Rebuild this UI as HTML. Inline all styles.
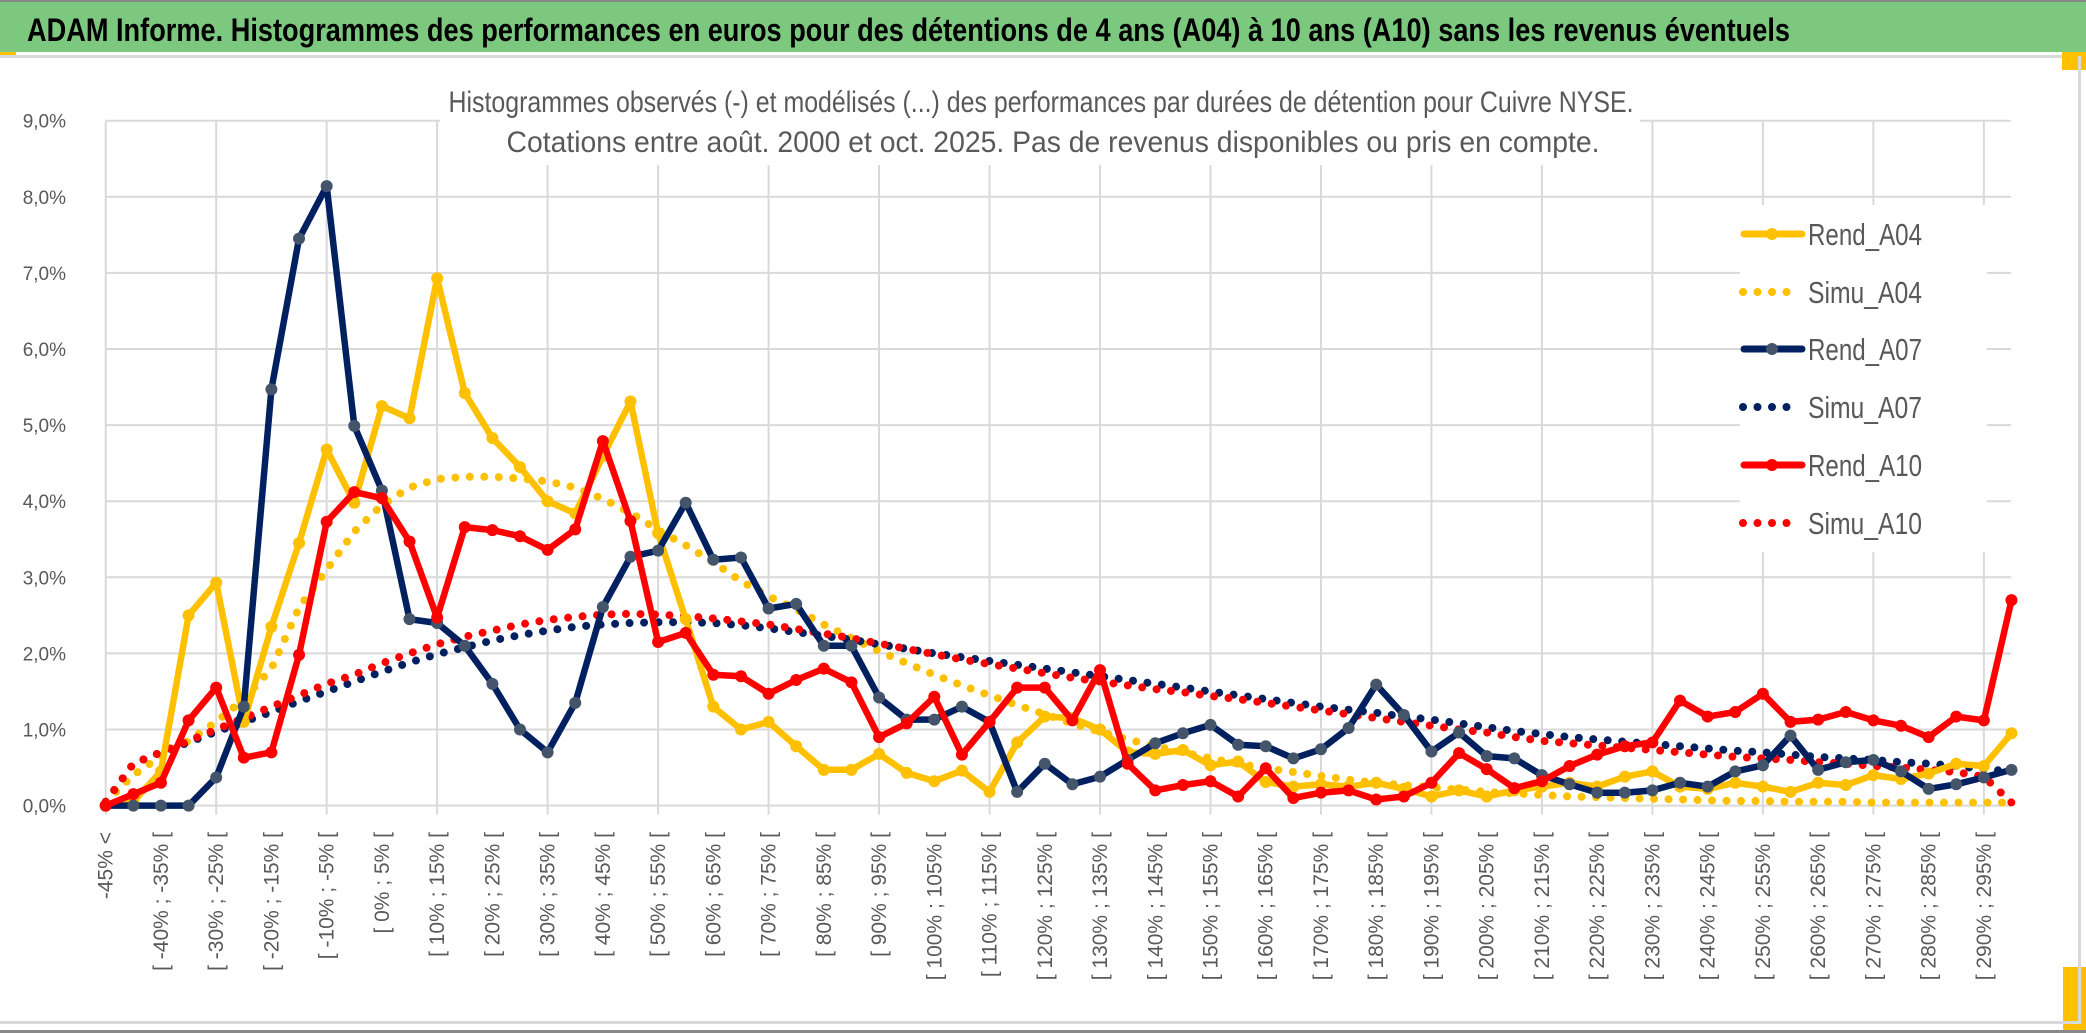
<!DOCTYPE html>
<html><head><meta charset="utf-8"><style>
html,body{margin:0;padding:0;background:#fff;}
svg{display:block;font-family:"Liberation Sans",sans-serif;}
</style></head><body>
<svg id="chart" width="2086" height="1033" viewBox="0 0 2086 1033" xmlns="http://www.w3.org/2000/svg">
<rect x="0" y="0" width="2086" height="1033" fill="#fff"/>
<rect x="0" y="2" width="2086" height="50" fill="#7DC87F"/>
<rect x="0" y="0" width="2086" height="2" fill="#888"/>
<text x="27" y="41" font-size="32" font-weight="bold" fill="#000" textLength="1763" lengthAdjust="spacingAndGlyphs">ADAM Informe. Histogrammes des performances en euros pour des détentions de 4 ans (A04) à 10 ans (A10) sans les revenus éventuels</text>
<rect x="0" y="52" width="16" height="3" fill="#FFC000"/>
<rect x="0" y="55" width="2086" height="3" fill="#D9D9D9"/>
<rect x="2062" y="52" width="24" height="18" fill="#FFC000"/>
<rect x="2063" y="967" width="23" height="63" fill="#FFC000"/>
<rect x="2078" y="56" width="3" height="967" fill="#D9D9D9"/>
<rect x="0" y="1021" width="2081" height="3" fill="#D9D9D9"/>
<rect x="0" y="1030" width="2086" height="3" fill="#888"/>
<g id="grid"></g>
<g id="series"></g>
<rect x="440" y="62" width="1200" height="103" fill="#fff"/>
<text x="1041" y="112" text-anchor="middle" font-size="30" fill="#595959" textLength="1185" lengthAdjust="spacingAndGlyphs">Histogrammes observés (-) et modélisés (...) des performances par durées de détention pour Cuivre NYSE.</text>
<text x="1053" y="152" text-anchor="middle" font-size="30" fill="#595959" textLength="1093" lengthAdjust="spacingAndGlyphs">Cotations entre août. 2000 et oct. 2025. Pas de revenus disponibles ou pris en compte.</text>
<g id="axes"></g>
<rect x="1740" y="205" width="247" height="347" fill="#fff"/>
<g id="legend"></g>
</svg>
<script>
const categories = (function(){const a=["-45% <"];for(let k=1;k<70;k++){const lo=-45+5*(k-1);a.push("[ "+lo+"% ; "+(lo+5)+"% [");}return a;})();
const yTicks = [0,1,2,3,4,5,6,7,8,9];
const yTickLabels = ["0,0%","1,0%","2,0%","3,0%","4,0%","5,0%","6,0%","7,0%","8,0%","9,0%"];
const rendA04 = [0,0.05,0.45,2.5,2.93,1.1,2.35,3.45,4.68,3.98,5.25,5.09,6.93,5.42,4.83,4.45,4.0,3.84,4.59,5.31,3.58,2.45,1.3,1.0,1.1,0.78,0.47,0.47,0.68,0.43,0.32,0.46,0.18,0.83,1.17,1.15,1.0,0.7,0.68,0.73,0.53,0.58,0.31,0.25,0.28,0.25,0.3,0.22,0.12,0.2,0.12,0.2,0.25,0.3,0.25,0.38,0.45,0.25,0.22,0.3,0.25,0.18,0.3,0.27,0.4,0.35,0.42,0.55,0.52,0.95];
const simuA04 = [0.05,0.4,0.65,0.85,1.1,1.4,1.8,2.6,3.1,3.6,3.95,4.18,4.29,4.32,4.32,4.3,4.26,4.18,4.03,3.85,3.62,3.42,3.2,2.95,2.75,2.58,2.38,2.2,2.03,1.87,1.72,1.58,1.45,1.32,1.2,1.08,0.97,0.87,0.78,0.7,0.62,0.55,0.49,0.44,0.39,0.34,0.3,0.27,0.24,0.21,0.18,0.16,0.14,0.12,0.11,0.1,0.09,0.08,0.07,0.06,0.06,0.05,0.05,0.05,0.04,0.04,0.04,0.04,0.04,0.04];
const rendA07 = [0,0,0,0,0.37,1.3,5.47,7.45,8.14,4.99,4.14,2.45,2.4,2.1,1.6,1.0,0.7,1.35,2.61,3.27,3.35,3.98,3.23,3.26,2.59,2.65,2.1,2.1,1.42,1.13,1.13,1.3,1.1,0.18,0.55,0.28,0.38,0.6,0.82,0.95,1.06,0.8,0.78,0.62,0.74,1.02,1.59,1.19,0.71,0.96,0.65,0.62,0.4,0.28,0.17,0.17,0.2,0.3,0.25,0.45,0.53,0.92,0.47,0.57,0.6,0.45,0.22,0.28,0.37,0.47];
const simuA07 = [0.05,0.55,0.7,0.83,0.97,1.1,1.23,1.37,1.5,1.63,1.76,1.88,1.99,2.08,2.17,2.24,2.3,2.35,2.38,2.4,2.41,2.41,2.4,2.37,2.33,2.28,2.23,2.18,2.12,2.06,2.0,1.95,1.9,1.85,1.8,1.75,1.7,1.65,1.6,1.55,1.5,1.45,1.4,1.35,1.3,1.26,1.22,1.17,1.13,1.08,1.03,0.98,0.94,0.9,0.87,0.84,0.81,0.78,0.75,0.72,0.7,0.67,0.64,0.62,0.6,0.57,0.55,0.52,0.48,0.45];
const rendA10 = [0,0.15,0.3,1.12,1.55,0.63,0.7,1.98,3.73,4.12,4.04,3.47,2.47,3.66,3.62,3.54,3.36,3.63,4.79,3.74,2.15,2.27,1.72,1.7,1.47,1.65,1.8,1.62,0.9,1.08,1.43,0.67,1.1,1.55,1.55,1.12,1.78,0.55,0.2,0.27,0.32,0.12,0.49,0.1,0.17,0.2,0.08,0.12,0.3,0.69,0.48,0.23,0.32,0.52,0.67,0.78,0.83,1.38,1.17,1.23,1.47,1.1,1.13,1.23,1.12,1.05,0.9,1.17,1.12,2.7];
const simuA10 = [0.05,0.55,0.7,0.85,1.0,1.15,1.3,1.45,1.6,1.72,1.87,2.0,2.12,2.22,2.3,2.38,2.44,2.48,2.51,2.52,2.51,2.49,2.46,2.42,2.38,2.32,2.26,2.2,2.13,2.06,1.99,1.92,1.86,1.8,1.74,1.68,1.63,1.58,1.53,1.49,1.44,1.4,1.35,1.3,1.25,1.2,1.15,1.1,1.05,1.0,0.96,0.9,0.85,0.82,0.79,0.76,0.73,0.7,0.67,0.64,0.62,0.6,0.57,0.55,0.52,0.5,0.47,0.44,0.38,0.04];
const seriesNames = ["Rend_A04","Simu_A04","Rend_A07","Simu_A07","Rend_A10","Simu_A10"];

const NS="http://www.w3.org/2000/svg";
const X0=105.7, DX=27.62, Y0=805.6, DY=76.1, XR=2011;
function xs(i){return X0+i*DX;}
function ys(v){return Y0-v*DY;}
function mk(tag,attrs,parent){const e=document.createElementNS(NS,tag);for(const k in attrs)e.setAttribute(k,attrs[k]);parent.appendChild(e);return e;}

const grid=document.getElementById('grid');
yTicks.forEach((t,k)=>{
  const l=mk('line',{x1:X0,x2:XR,y1:ys(t),y2:ys(t),stroke:'#D9D9D9','stroke-width':2},grid);
  
  
});
for(let i=0;i<categories.length;i+=4){
  const l=mk('line',{x1:xs(i),x2:xs(i),y1:ys(9),y2:Y0+9,stroke:'#D9D9D9','stroke-width':2},grid);
  
  
}

const axes=document.getElementById('axes');
yTicks.forEach((t,k)=>{
  const tx=mk('text',{x:66,y:ys(t)+7,'text-anchor':'end','font-size':19,fill:'#595959'},axes);
  tx.textContent=yTickLabels[k];
  
  
});
categories.forEach((c,i)=>{
  if(i%2!==0)return;
  const x=xs(i)+7, y=832;
  const tx=mk('text',{x:x,y:y,'text-anchor':'end','font-size':21,fill:'#595959',transform:'rotate(-90 '+x+' '+y+')'},axes);
  tx.textContent=c;
  
  
});

const ser=document.getElementById('series');
function pts(arr){return arr.map((v,i)=>xs(i).toFixed(1)+','+ys(v).toFixed(1)).join(' ');}
function dotted(arr,color,name){
  const p=mk('polyline',{points:pts(arr),fill:'none',stroke:color,'stroke-width':8,'stroke-linecap':'round','stroke-dasharray':'0 14.5'},ser);
  
  
}
function solid(arr,color,mcolor,name){
  const p=mk('polyline',{points:pts(arr),fill:'none',stroke:color,'stroke-width':6.5,'stroke-linejoin':'round'},ser);
  
  
  arr.forEach((v,i)=>{
    const c=mk('circle',{cx:xs(i),cy:ys(v),r:6,fill:mcolor},ser);
    
    
  });
}
dotted(simuA04,'#FFC000','simu-a04-line');
dotted(simuA07,'#002060','simu-a07-line');
dotted(simuA10,'#FF0000','simu-a10-line');
solid(rendA04,'#FFC000','#FFC000','rend-a04-line');
solid(rendA07,'#002060','#44546A','rend-a07-line');
solid(rendA10,'#FF0000','#FF0000','rend-a10-line');

const leg=document.getElementById('legend');
const legY=[234,292,349,407,465,523];
const legStyle=[['#FFC000','#FFC000',false],['#FFC000',null,true],['#002060','#44546A',false],['#002060',null,true],['#FF0000','#FF0000',false],['#FF0000',null,true]];
seriesNames.forEach((n,k)=>{
  const y=legY[k], s=legStyle[k];
  const g=mk('g',{},leg);
  
  
  if(s[2]){
    mk('line',{x1:1743,x2:1801,y1:y,y2:y,stroke:s[0],'stroke-width':8,'stroke-linecap':'round','stroke-dasharray':'0 14.5'},g);
  } else {
    mk('line',{x1:1744,x2:1802,y1:y,y2:y,stroke:s[0],'stroke-width':7,'stroke-linecap':'round'},g);
    mk('circle',{cx:1772,cy:y,r:6,fill:s[1]},g);
  }
  const t=mk('text',{x:1808,y:y+11,'font-size':31,fill:'#595959',textLength:'114',lengthAdjust:'spacingAndGlyphs'},g);
  t.textContent=n;
});
</script>
</body></html>
